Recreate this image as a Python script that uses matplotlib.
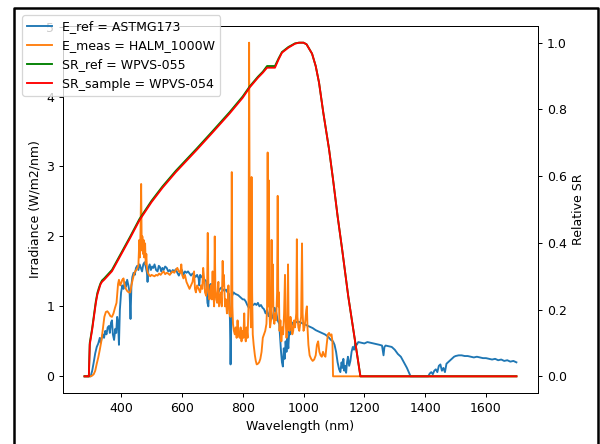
import matplotlib
matplotlib.use("Agg")
import matplotlib.pyplot as plt
from matplotlib.lines import Line2D

# ---------------- data ----------------
eref_wl = [280, 290, 300, 305, 310, 315, 320, 325, 330, 333, 337, 340, 344, 348, 352, 356, 360, 363,
           367, 370, 373, 377, 381, 384, 387, 390, 393, 396, 400, 404, 408, 412, 416, 420, 424, 428,
           431, 434, 437, 441, 445, 449, 453, 457, 461, 465, 469, 473, 477, 481, 485, 487, 490, 494,
           498, 502, 506, 510, 515, 520, 524, 528, 532, 536, 540, 545, 550, 555, 560, 565, 570, 575,
           580, 585, 590, 595, 600, 605, 610, 615, 620, 625, 630, 635, 640, 645, 650, 655, 657, 660,
           665, 670, 675, 680, 684, 687, 690, 695, 700, 705, 710, 715, 720, 725, 730, 735, 740, 745,
           750, 755, 758, 760, 762, 765, 770, 775, 780, 785, 790, 795, 800, 805, 810, 815, 820, 825,
           830, 835, 840, 845, 850, 855, 860, 865, 870, 875, 880, 885, 890, 895, 900, 905, 910, 915,
           920, 923, 926, 929, 932, 935, 938, 941, 944, 947, 950, 953, 956, 960, 965, 970, 975, 980,
           985, 990, 995, 1000, 1010, 1020, 1030, 1040, 1050, 1060, 1070, 1080, 1090, 1097, 1102,
           1107, 1112, 1117, 1121, 1125, 1128, 1131, 1134, 1137, 1140, 1143, 1146, 1150, 1154, 1158,
           1162, 1166, 1170, 1175, 1180, 1190, 1200, 1210, 1220, 1230, 1240, 1250, 1258, 1263, 1266,
           1270, 1280, 1290, 1300, 1310, 1320, 1330, 1340, 1347, 1352, 1410, 1415, 1420, 1425, 1430,
           1435, 1440, 1445, 1450, 1455, 1460, 1465, 1470, 1475, 1480, 1485, 1490, 1495, 1500, 1510,
           1520, 1530, 1540, 1550, 1560, 1570, 1580, 1590, 1600, 1610, 1620, 1630, 1640, 1650, 1660,
           1670, 1680, 1690, 1700]
eref = [0.0, 0.0, 0.0, 0.08, 0.2, 0.33, 0.42, 0.47, 0.55, 0.48, 0.56, 0.6, 0.55, 0.65, 0.6, 0.7, 0.72, 0.62,
        0.77, 0.8, 0.6, 0.52, 0.68, 0.62, 0.85, 0.78, 0.45, 0.95, 1.2, 1.3, 1.25, 1.35, 1.28, 1.38, 1.3, 1.2,
        0.82, 1.3, 1.42, 1.48, 1.45, 1.55, 1.58, 1.52, 1.6, 1.55, 1.5, 1.6, 1.63, 1.57, 1.48, 1.35, 1.55, 1.6,
        1.52, 1.57, 1.55, 1.6, 1.52, 1.5, 1.58, 1.56, 1.5, 1.55, 1.52, 1.57, 1.55, 1.5, 1.52, 1.48, 1.52, 1.5,
        1.53, 1.48, 1.44, 1.5, 1.52, 1.45, 1.5, 1.48, 1.5, 1.47, 1.44, 1.47, 1.45, 1.42, 1.45, 1.4, 1.3, 1.45,
        1.42, 1.4, 1.38, 1.36, 1.05, 1.0, 1.3, 1.32, 1.3, 1.27, 1.15, 1.12, 1.2, 1.25, 1.27, 1.24, 1.22, 1.24,
        1.2, 1.18, 0.8, 0.17, 0.7, 1.15, 1.2, 1.18, 1.17, 1.16, 1.14, 1.12, 1.1, 1.1, 1.07, 1.02, 0.98, 1.0,
        1.03, 1.02, 1.04, 1.02, 1.05, 1.0, 1.02, 0.98, 0.96, 0.9, 0.95, 0.86, 0.92, 0.82, 0.88, 0.98, 0.92, 0.8,
        0.75, 0.55, 0.35, 0.2, 0.14, 0.4, 0.25, 0.5, 0.35, 0.55, 0.4, 0.65, 0.6, 0.72, 0.77, 0.75, 0.78, 0.77,
        0.78, 0.77, 0.76, 0.75, 0.73, 0.71, 0.69, 0.66, 0.64, 0.62, 0.6, 0.57, 0.52, 0.5, 0.45,
        0.35, 0.2, 0.1, 0.06, 0.2, 0.12, 0.25, 0.08, 0.15, 0.05, 0.2, 0.28, 0.15, 0.22, 0.35,
        0.42, 0.38, 0.47, 0.45, 0.49, 0.48, 0.47, 0.49, 0.48, 0.47, 0.46, 0.45, 0.44, 0.3, 0.42,
        0.44, 0.43, 0.42, 0.38, 0.32, 0.28, 0.2, 0.12, 0.05, 0.0, 0.0, 0.04, 0.06, 0.03, 0.08,
        0.1, 0.06, 0.15, 0.17, 0.08, 0.12, 0.06, 0.18, 0.2, 0.22, 0.24, 0.26, 0.28, 0.29, 0.3,
        0.3, 0.29, 0.29, 0.28, 0.27, 0.28, 0.27, 0.26, 0.26, 0.25, 0.24, 0.25, 0.23, 0.24, 0.22,
        0.23, 0.21, 0.22, 0.2]

emeas_wl = [280, 300, 305, 310, 315, 320, 325, 330, 335, 340, 345, 350, 355, 360, 365, 370, 375, 380,
            385, 390, 393, 397, 400, 404, 408, 412, 416, 420, 425, 430, 434, 438, 442, 446, 450, 454,
            457, 460, 462, 464, 466, 468, 470, 472, 474, 476, 479, 481, 483, 485, 488, 492, 496, 500,
            505, 510, 515, 520, 525, 530, 535, 540, 545, 550, 555, 560, 565, 570, 575, 580, 585, 590,
            595, 598, 601, 605, 610, 615, 620, 625, 630, 635, 640, 643, 646, 650, 655, 660, 663, 667,
            670, 673, 676, 680, 683, 685, 687, 690, 693, 696, 698, 701, 703, 706, 708, 710, 713, 716,
            720, 722, 725, 728, 731, 734, 736, 738, 740, 742, 745, 748, 751, 753, 756, 760, 762, 764,
            766, 768, 771, 774, 777, 780, 783, 786, 790, 793, 796, 799, 802, 805, 807, 810, 813, 816,
            819, 821, 823, 825, 827, 829, 831, 833, 836, 840, 843, 846, 850, 854, 858, 862, 866, 870,
            874, 878, 880, 882, 884, 886, 888, 890, 893, 895, 897, 899, 901, 904, 907, 910, 913, 915,
            917, 919, 921, 924, 927, 930, 933, 936, 939, 941, 944, 947, 949, 951, 954, 957, 960, 963,
            966, 969, 972, 976, 978, 980, 983, 986, 989, 992, 995, 997, 1000, 1003, 1006, 1009, 1011,
            1013, 1016, 1020, 1025, 1030, 1035, 1040, 1044, 1048, 1052, 1056, 1060, 1064, 1068, 1072,
            1076, 1080, 1084, 1088, 1092, 1095, 1097, 1700]
emeas = [0.0, 0.0, 0.01, 0.03, 0.08, 0.18, 0.27, 0.38, 0.5, 0.68, 0.85, 0.92, 0.93, 0.9, 0.86, 0.85, 0.9, 0.98,
         1.05, 1.32, 1.38, 1.3, 1.33, 1.38, 1.4, 1.3, 1.25, 1.22, 1.2, 1.2, 1.3, 1.38, 1.45, 1.5, 1.52, 1.55,
         1.6, 1.95, 1.7, 2.1, 2.75, 1.8, 2.0, 1.75, 1.95, 1.7, 1.9, 1.6, 1.75, 1.55, 1.48, 1.45, 1.43, 1.45,
         1.44, 1.43, 1.45, 1.44, 1.47, 1.45, 1.48, 1.5, 1.46, 1.48, 1.47, 1.45, 1.48, 1.5, 1.48, 1.52, 1.55, 1.5,
         1.48, 1.6, 1.45, 1.4, 1.45, 1.35, 1.3, 1.25, 1.3, 1.35, 1.5, 1.25, 1.2, 1.3, 1.25, 1.2, 1.3, 1.25,
         1.55, 1.4, 1.2, 1.15, 1.3, 2.05, 1.3, 1.1, 1.15, 1.3, 1.1, 1.5, 1.2, 1.0, 2.0, 1.3, 1.1, 1.05,
         1.35, 1.0, 1.1, 1.2, 1.0, 1.65, 1.3, 1.45, 1.2, 1.0, 1.1, 0.9, 1.05, 1.3, 0.9, 0.85, 1.0, 2.92,
         1.0, 0.75, 0.65, 0.6, 0.7, 0.55, 0.8, 0.6, 0.55, 0.7, 0.5, 0.65, 0.55, 0.9, 0.6, 0.5, 0.7, 0.55,
         1.0, 4.77, 2.0, 1.1, 0.7, 2.85, 1.2, 0.6, 0.45, 0.3, 0.22, 0.17, 0.18, 0.2, 0.25, 0.35, 0.55, 0.6,
         0.65, 0.75, 1.0, 3.2, 1.0, 2.8, 0.9, 0.7, 0.8, 1.95, 1.0, 1.6, 0.85, 0.75, 0.9, 0.8, 1.2, 2.58,
         1.0, 1.2, 0.65, 0.8, 0.5, 0.7, 0.6, 0.9, 1.45, 0.8, 0.55, 0.75, 1.6, 0.7, 0.65, 0.85, 0.75, 0.6,
         0.65, 0.8, 0.7, 0.9, 1.96, 0.85, 0.7, 0.65, 0.75, 0.85, 1.9, 0.9, 0.65, 0.7, 0.8, 0.95, 1.0,
         0.7, 0.45, 0.3, 0.25, 0.22, 0.24, 0.3, 0.45, 0.5, 0.35, 0.3, 0.28, 0.35, 0.3, 0.28,
         0.45, 0.6, 0.62, 0.58, 0.6, 0.5, 0.0, 0.0]

sr_wl = [280, 294, 297, 305, 311, 317, 322, 327, 332, 337, 345, 355, 370, 385, 403, 430, 460, 500, 536,
         580, 648, 700, 757, 800, 823, 850, 866, 880, 906, 918, 929, 950, 972, 985, 1000, 1010, 1028,
         1040, 1051, 1065, 1084, 1097, 1112, 1127, 1147, 1167, 1187, 1700]
sr_ref = [0.0, 0.0, 0.1, 0.145, 0.185, 0.225, 0.25, 0.265, 0.278, 0.287, 0.294, 0.304, 0.319, 0.344, 0.374,
          0.419, 0.471, 0.526, 0.569, 0.616, 0.682, 0.734, 0.792, 0.839, 0.869, 0.898, 0.913, 0.93, 0.93,
          0.953, 0.972, 0.987, 0.998, 1.0, 1.0, 0.995, 0.967, 0.93, 0.88, 0.79, 0.68, 0.59, 0.48, 0.38,
          0.24, 0.12, 0.0, 0.0]
sr_sample = [0.0, 0.0, 0.095, 0.14, 0.18, 0.22, 0.245, 0.26, 0.275, 0.283, 0.29, 0.3, 0.315, 0.34, 0.37,
             0.415, 0.467, 0.522, 0.565, 0.612, 0.678, 0.73, 0.788, 0.835, 0.866, 0.895, 0.91, 0.925, 0.925,
             0.95, 0.97, 0.985, 0.997, 1.0, 1.0, 0.995, 0.967, 0.93, 0.88, 0.79, 0.68, 0.59, 0.48, 0.38,
             0.24, 0.12, 0.0, 0.0]

labels = ["E_ref = ASTMG173", "E_meas = HALM_1000W", "SR_ref = WPVS-055", "SR_sample = WPVS-054"]

assert len(eref_wl) == len(eref)
assert len(emeas_wl) == len(emeas)
assert len(sr_wl) == len(sr_ref) == len(sr_sample)

# ---------------- figure ----------------
W, H, DPI = 600, 444, 90
fig = plt.figure(figsize=(W / DPI, H / DPI), dpi=DPI)
rect = [63 / W, 1 - 393 / H, 475 / W, 367 / H]
ax = fig.add_axes(rect)
l1, = ax.plot(eref_wl, eref, color="#1f77b4", lw=1.5)
l2, = ax.plot(emeas_wl, emeas, color="#ff7f0e", lw=1.5)
ax.set_xlabel("Wavelength (nm)")
ax.set_ylabel("Irradiance (W/m2/nm)")

ax2 = ax.twinx()
l3, = ax2.plot(sr_wl, sr_ref, color="g", lw=1.5)
l4, = ax2.plot(sr_wl, sr_sample, color="r", lw=1.5)
ax2.set_ylabel("Relative SR")
ax2.set_position(rect)

fig.legend([l1, l2, l3, l4], labels, loc="upper left",
           bbox_to_anchor=(22 / W, 1 - 15 / H), borderaxespad=0)

# black frame of the original screenshot
fig.add_artist(Line2D([14 / W, 14 / W, 597.5 / W, 597.5 / W],
                      [-0.05, 1 - 8 / H, 1 - 8 / H, -0.05],
                      transform=fig.transFigure, color="black", lw=2))

fig.savefig("out.png", dpi=DPI)
